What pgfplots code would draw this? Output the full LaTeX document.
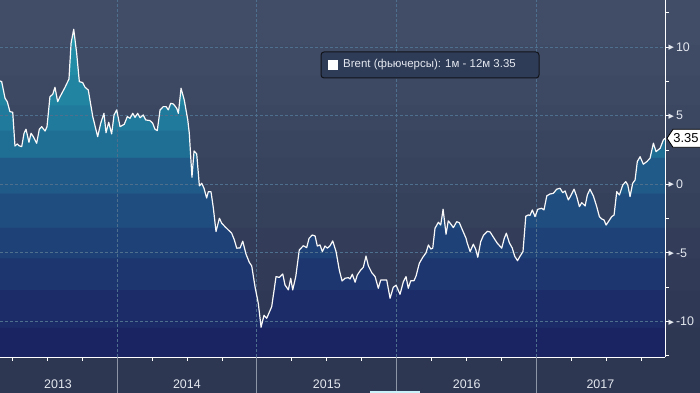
\documentclass[border=0pt]{standalone}
\usepackage{fontspec}
\setmainfont{Liberation Sans}
\newfontfamily\dvs{DejaVu Sans}
\usepackage{pgfplots}
\usepackage{pgfplotstable}
\pgfplotsset{compat=1.18}

\definecolor{g0}{HTML}{2D3752}\definecolor{g1}{HTML}{2F3955}\definecolor{g2}{HTML}{313B57}
\definecolor{g3}{HTML}{333D59}\definecolor{g4}{HTML}{35405B}\definecolor{g5}{HTML}{37425D}
\definecolor{g6}{HTML}{39445F}\definecolor{g7}{HTML}{3B4661}\definecolor{g8}{HTML}{3D4863}
\definecolor{g9}{HTML}{3F4A65}\definecolor{g10}{HTML}{414C67}
\definecolor{b0}{HTML}{1B2462}\definecolor{b1}{HTML}{1C2C69}\definecolor{b2}{HTML}{1D366F}
\definecolor{b3}{HTML}{1E4177}\definecolor{b4}{HTML}{1F4D80}\definecolor{b5}{HTML}{1F5A88}
\definecolor{b6}{HTML}{1F6F95}\definecolor{b7}{HTML}{207A9B}\definecolor{b8}{HTML}{2184A1}
\definecolor{b9}{HTML}{228CA6}\definecolor{b10}{HTML}{2394AA}
\definecolor{gridc}{HTML}{4F6F8E}
\definecolor{labelc}{HTML}{E4E8EF}
\definecolor{legfill}{HTML}{2F3C58}
\definecolor{legborder}{HTML}{111418}
\definecolor{sepc}{HTML}{8B95A5}
\definecolor{cyanbar}{HTML}{C9F2FA}

\pgfdeclareverticalshading{bgbands}{100bp}{color(0bp)=(g0); color(33.40bp)=(g0);
 color(33.41bp)=(g1); color(38.10bp)=(g1); color(38.11bp)=(g2); color(42.18bp)=(g2);
 color(42.19bp)=(g3); color(46.12bp)=(g3); color(46.13bp)=(g4); color(50.45bp)=(g4);
 color(50.46bp)=(g5); color(55.03bp)=(g5); color(55.04bp)=(g6); color(58.46bp)=(g6);
 color(58.47bp)=(g7); color(61.64bp)=(g7); color(61.65bp)=(g8); color(65.46bp)=(g8);
 color(65.47bp)=(g9); color(69.28bp)=(g9); color(69.29bp)=(g10); color(100bp)=(g10)}

\pgfdeclareverticalshading{fillbands}{100bp}{color(0bp)=(b0); color(29.58bp)=(b0);
 color(29.59bp)=(b1); color(35.23bp)=(b1); color(35.24bp)=(b2); color(40.11bp)=(b2);
 color(40.12bp)=(b3); color(44.84bp)=(b3); color(44.85bp)=(b4); color(50.03bp)=(b4);
 color(50.04bp)=(b5); color(55.51bp)=(b5); color(55.52bp)=(b6); color(59.64bp)=(b6);
 color(59.65bp)=(b7); color(63.45bp)=(b7); color(63.46bp)=(b8); color(68.03bp)=(b8);
 color(68.04bp)=(b9); color(72.59bp)=(b9); color(72.60bp)=(b10); color(100bp)=(b10)}

\newcommand{\ytri}{\raisebox{1.6bp}{\dvs\fontsize{7}{7}\selectfont ▶}}

\pgfplotstableread{
x y
2013.164 7.53
2013.176 7.48
2013.200 6.27
2013.216 6.02
2013.235 5.29
2013.255 5.25
2013.271 2.79
2013.288 2.94
2013.300 2.81
2013.319 2.74
2013.336 3.72
2013.350 4.01
2013.371 3.06
2013.386 3.72
2013.402 3.47
2013.426 2.99
2013.445 4.01
2013.462 4.20
2013.486 3.88
2013.500 4.20
2013.521 6.38
2013.541 6.56
2013.557 7.07
2013.576 6.02
2013.593 6.38
2013.629 7.07
2013.657 7.67
2013.672 10.28
2013.691 11.30
2013.712 9.55
2013.731 7.48
2013.755 7.41
2013.772 7.07
2013.795 6.87
2013.827 4.93
2013.862 3.47
2013.884 4.45
2013.907 5.17
2013.922 3.76
2013.941 4.52
2013.962 3.67
2013.979 5.05
2013.998 5.42
2014.022 4.20
2014.052 4.37
2014.074 4.93
2014.093 4.81
2014.113 5.17
2014.129 4.88
2014.148 5.17
2014.165 4.85
2014.188 5.05
2014.205 4.69
2014.236 4.64
2014.255 4.45
2014.272 4.01
2014.288 3.91
2014.308 5.42
2014.331 5.66
2014.351 5.66
2014.367 5.42
2014.384 5.90
2014.403 5.85
2014.427 5.54
2014.439 5.17
2014.458 7.00
2014.481 6.14
2014.506 4.69
2014.517 3.72
2014.536 0.51
2014.551 2.43
2014.570 2.21
2014.589 -0.12
2014.606 0.07
2014.622 -0.29
2014.641 -1.00
2014.653 -0.54
2014.672 -0.54
2014.689 -1.75
2014.708 -3.45
2014.732 -2.48
2014.749 -2.84
2014.772 -3.09
2014.796 -3.33
2014.820 -3.57
2014.839 -4.06
2014.856 -4.66
2014.880 -4.64
2014.899 -4.15
2014.922 -5.08
2014.946 -5.69
2014.963 -5.95
2014.987 -7.49
2015.010 -8.67
2015.030 -10.42
2015.051 -9.55
2015.070 -9.77
2015.106 -8.92
2015.137 -6.73
2015.160 -6.79
2015.185 -6.54
2015.201 -7.34
2015.225 -7.70
2015.242 -6.85
2015.256 -7.70
2015.278 -6.73
2015.303 -4.79
2015.332 -4.48
2015.356 -4.62
2015.373 -3.94
2015.396 -3.70
2015.416 -3.77
2015.432 -4.50
2015.451 -4.42
2015.468 -4.91
2015.487 -4.50
2015.504 -4.66
2015.523 -4.48
2015.542 -4.13
2015.566 -4.91
2015.589 -6.25
2015.609 -7.05
2015.630 -6.85
2015.654 -6.81
2015.666 -6.90
2015.682 -6.56
2015.702 -7.14
2015.718 -6.61
2015.742 -6.25
2015.761 -6.05
2015.780 -5.23
2015.797 -5.95
2015.821 -6.44
2015.845 -6.73
2015.868 -7.58
2015.885 -6.98
2015.928 -6.98
2015.952 -8.31
2015.975 -7.51
2015.995 -7.36
2016.023 -8.02
2016.047 -7.10
2016.066 -6.73
2016.082 -7.58
2016.100 -7.03
2016.123 -7.03
2016.138 -6.68
2016.161 -5.76
2016.186 -5.32
2016.209 -4.99
2016.226 -4.42
2016.243 -4.72
2016.257 -4.66
2016.273 -3.21
2016.297 -2.77
2016.314 -2.97
2016.331 -1.82
2016.352 -3.64
2016.368 -2.67
2016.388 -2.92
2016.404 -3.16
2016.428 -2.73
2016.447 -2.80
2016.469 -3.33
2016.495 -3.94
2016.504 -4.30
2016.524 -4.91
2016.547 -4.37
2016.564 -4.74
2016.579 -5.32
2016.600 -4.18
2016.619 -3.73
2016.647 -3.43
2016.667 -3.48
2016.688 -3.82
2016.717 -4.28
2016.750 -4.66
2016.768 -3.95
2016.783 -3.57
2016.805 -4.28
2016.825 -4.64
2016.843 -5.25
2016.863 -5.57
2016.881 -5.24
2016.902 -4.91
2016.922 -2.33
2016.940 -2.24
2016.952 -2.27
2016.969 -1.87
2016.988 -2.36
2017.008 -1.82
2017.036 -1.75
2017.052 -1.87
2017.072 -0.85
2017.095 -0.71
2017.119 -0.66
2017.143 -0.36
2017.167 -0.29
2017.186 -0.61
2017.203 -0.49
2017.226 -1.14
2017.243 -0.85
2017.267 -0.36
2017.286 -0.90
2017.305 -1.63
2017.322 -1.34
2017.346 -1.58
2017.362 -0.78
2017.381 -0.36
2017.405 -0.85
2017.429 -1.63
2017.448 -2.36
2017.465 -2.53
2017.481 -2.60
2017.496 -2.97
2017.512 -2.73
2017.536 -2.36
2017.553 -2.24
2017.572 -0.54
2017.591 -0.78
2017.615 -0.05
2017.637 0.19
2017.651 -0.05
2017.667 -0.90
2017.686 0.07
2017.703 0.31
2017.719 1.65
2017.739 2.01
2017.762 1.46
2017.787 1.65
2017.810 1.90
2017.834 2.99
2017.853 2.38
2017.882 2.62
2017.905 3.23
2017.917 3.35
}\brent

\begin{document}
\begin{tikzpicture}
\useasboundingbox (0,0) rectangle (700bp,393bp);
\shade[shading=bgbands] (0,0) rectangle (700bp,393bp);
\begin{axis}[
  at={(0,36bp)}, anchor=south west,
  scale only axis, width=665bp, height=357bp,
  xmin=2013.164, xmax=2017.917, ymin=-12.59, ymax=13.43,
  axis x line*=bottom, axis y line*=right,
  axis line style={white, line width=1bp},
  axis on top, clip=false,
  tick align=outside,
  major tick length=3.5bp, minor tick length=4bp,
  tick style={white, line width=0.8bp},
  tick label style={font=\fontsize{12.5}{14}\selectfont, text=labelc},
  xtick={2013.25,2013.5,2013.75,2014.25,2014.5,2014.75,2015.25,2015.5,2015.75,2016.25,2016.5,2016.75,2017.25,2017.5,2017.75},
  xticklabels={},
  extra x ticks={2013.579,2014.5,2015.5,2016.5,2017.455},
  extra x tick labels={2013,2014,2015,2016,2017},
  extra x tick style={major tick length=0pt, xticklabel style={anchor=base, yshift=-31bp}},
  ytick={-10,-5,0,5,10},
  minor ytick={-12.5,-7.5,-2.5,2.5,7.5,12.5},
  yticklabel={\ytri\hspace{2bp}\pgfmathprintnumber[assume math mode=true]{\tick}},
  yticklabel style={anchor=west, inner sep=0pt},
]
\addplot[draw=none, save path=\fillpath] table {\brent}
  -- (axis cs:2017.917,-12.59) -- (axis cs:2013.164,-12.59) -- cycle;
\begin{scope}
\clip[use path=\fillpath];
\shade[shading=fillbands] (axis cs:2013.164,-12.59) rectangle (axis cs:2017.917,11.30);
\end{scope}
\addplot[gridc, line width=0.8bp, dash pattern=on 2.5bp off 2.5bp] coordinates {(2013.164,10) (2017.917,10)};
\addplot[gridc, line width=0.8bp, dash pattern=on 2.5bp off 2.5bp] coordinates {(2013.164,5) (2017.917,5)};
\addplot[gridc, line width=0.8bp, dash pattern=on 2.5bp off 2.5bp] coordinates {(2013.164,0) (2017.917,0)};
\addplot[gridc, line width=0.8bp, dash pattern=on 2.5bp off 2.5bp] coordinates {(2013.164,-5) (2017.917,-5)};
\addplot[gridc, line width=0.8bp, dash pattern=on 2.5bp off 2.5bp] coordinates {(2013.164,-10) (2017.917,-10)};
\addplot[gridc, line width=0.8bp, dash pattern=on 2.5bp off 2.5bp] coordinates {(2014,-12.59) (2014,13.43)};
\addplot[gridc, line width=0.8bp, dash pattern=on 2.5bp off 2.5bp] coordinates {(2015,-12.59) (2015,13.43)};
\addplot[gridc, line width=0.8bp, dash pattern=on 2.5bp off 2.5bp] coordinates {(2016,-12.59) (2016,13.43)};
\addplot[gridc, line width=0.8bp, dash pattern=on 2.5bp off 2.5bp] coordinates {(2017,-12.59) (2017,13.43)};
\addplot[white!95!gray, line width=1.2bp, line join=round] table {\brent};
\end{axis}
% year separators below the axis
\draw[sepc, line width=0.8bp] (116.96bp,36bp) -- (116.96bp,0);
\draw[sepc, line width=0.8bp] (256.87bp,36bp) -- (256.87bp,0);
\draw[sepc, line width=0.8bp] (396.78bp,36bp) -- (396.78bp,0);
\draw[sepc, line width=0.8bp] (536.68bp,36bp) -- (536.68bp,0);
% legend box
\node[draw=legborder, fill=legfill, rounded corners=3bp, line width=1bp, minimum width=218bp, minimum height=26bp, inner sep=0pt] at (430bp,328bp) {};
\fill[white] (328bp,323bp) rectangle (338bp,333bp);
\node[anchor=west, inner sep=0pt, text=labelc, font=\fontsize{11.5}{13}\selectfont] at (343bp,328bp) {Brent (фьючерсы): 1м - 12м 3.35};
% last value label
\filldraw[fill=white, draw=black, line width=0.8bp] (667bp,254.7bp) -- (673bp,263.7bp) -- (701bp,263.7bp) -- (701bp,245.7bp) -- (673bp,245.7bp) -- cycle;
\node[anchor=center, inner sep=0pt, text=black, font=\fontsize{13}{14}\selectfont] at (686bp,254.7bp) {3.35};
\fill[cyanbar] (370bp,0) rectangle (420bp,2.2bp);
\end{tikzpicture}
\end{document}
